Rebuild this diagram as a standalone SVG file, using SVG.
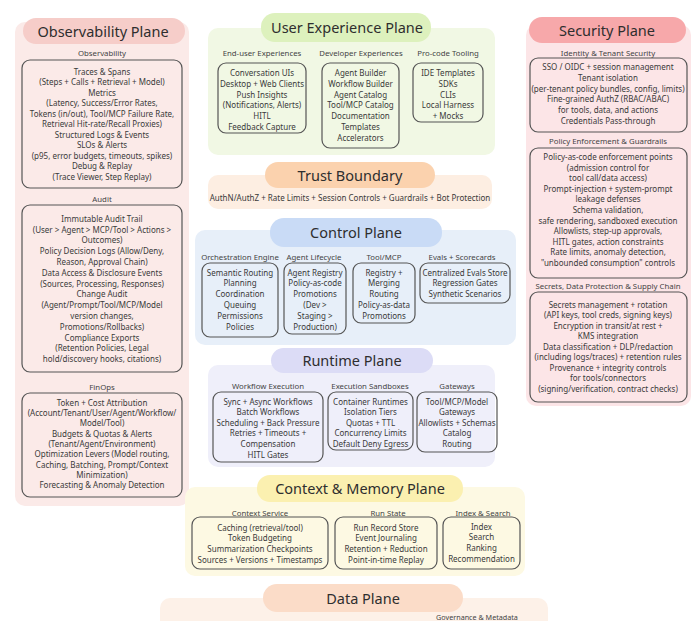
<svg xmlns="http://www.w3.org/2000/svg" width="700" height="621" viewBox="0 0 700 621">
<style>
.t{font-family:"Noto Sans","Open Sans","DejaVu Sans",sans-serif;font-size:8px;fill:#3a3a3a;text-anchor:middle}
.lbl{font-family:"Noto Sans","Open Sans","DejaVu Sans",sans-serif;font-size:7.8px;fill:#444;text-anchor:middle}
.ttl{font-family:"Noto Sans","Open Sans","DejaVu Sans",sans-serif;font-size:14.5px;fill:#2e2e2e;text-anchor:middle}
.box{fill:none;stroke:#555;stroke-width:1.2}
</style>
<rect width="700" height="621" fill="#ffffff"/>

<g id="observability">
<rect x="15" y="22" width="174" height="484" rx="10" fill="#fbeae8"/>
<rect x="23" y="18" width="162" height="26" rx="13" fill="#f6cdc9"/>
<text class="ttl" x="103" y="36.5">Observability Plane</text>
<text class="lbl" x="102" y="55.5">Observability</text>
<rect class="box" x="22" y="60" width="160" height="128" rx="8"/>
<text class="t" x="102" y="74.8">Traces &amp; Spans</text>
<text class="t" x="102" y="85.3">(Steps + Calls + Retrieval + Model)</text>
<text class="t" x="102" y="95.8">Metrics</text>
<text class="t" x="102" y="106.3">(Latency, Success/Error Rates,</text>
<text class="t" x="102" y="116.8">Tokens (in/out), Tool/MCP Failure Rate,</text>
<text class="t" x="102" y="127.3">Retrieval Hit-rate/Recall Proxies)</text>
<text class="t" x="102" y="137.8">Structured Logs &amp; Events</text>
<text class="t" x="102" y="148.3">SLOs &amp; Alerts</text>
<text class="t" x="102" y="158.8">(p95, error budgets, timeouts, spikes)</text>
<text class="t" x="102" y="169.3">Debug &amp; Replay</text>
<text class="t" x="102" y="179.8">(Trace Viewer, Step Replay)</text>
<text class="lbl" x="102" y="201.5">Audit</text>
<rect class="box" x="22" y="205" width="160" height="167" rx="8"/>
<text class="t" x="102" y="221.8">Immutable Audit Trail</text>
<text class="t" x="102" y="232.6">(User &gt; Agent &gt; MCP/Tool &gt; Actions &gt;</text>
<text class="t" x="102" y="243.4">Outcomes)</text>
<text class="t" x="102" y="254.2">Policy Decision Logs (Allow/Deny,</text>
<text class="t" x="102" y="265">Reason, Approval Chain)</text>
<text class="t" x="102" y="275.8">Data Access &amp; Disclosure Events</text>
<text class="t" x="102" y="286.6">(Sources, Processing, Responses)</text>
<text class="t" x="102" y="297.4">Change Audit</text>
<text class="t" x="102" y="308.2">(Agent/Prompt/Tool/MCP/Model</text>
<text class="t" x="102" y="319">version changes,</text>
<text class="t" x="102" y="329.8">Promotions/Rollbacks)</text>
<text class="t" x="102" y="340.6">Compliance Exports</text>
<text class="t" x="102" y="351.4">(Retention Policies, Legal</text>
<text class="t" x="102" y="362.2">hold/discovery hooks, citations)</text>
<text class="lbl" x="102" y="389.5">FinOps</text>
<rect class="box" x="22" y="393" width="160" height="104" rx="8"/>
<text class="t" x="102" y="405.8">Token + Cost Attribution</text>
<text class="t" x="102" y="416.1">(Account/Tenant/User/Agent/Workflow/</text>
<text class="t" x="102" y="426.4">Model/Tool)</text>
<text class="t" x="102" y="436.7">Budgets &amp; Quotas &amp; Alerts</text>
<text class="t" x="102" y="447">(Tenant/Agent/Environment)</text>
<text class="t" x="102" y="457.3">Optimization Levers (Model routing,</text>
<text class="t" x="102" y="467.6">Caching, Batching, Prompt/Context</text>
<text class="t" x="102" y="477.9">Minimization)</text>
<text class="t" x="102" y="488.2">Forecasting &amp; Anomaly Detection</text>
</g>

<g id="ux-plane">
<rect x="208" y="28" width="287" height="127" rx="10" fill="#f1f8e4"/>
<rect x="261" y="13" width="170" height="29" rx="14" fill="#ddf1bd"/>
<text class="ttl" x="347" y="32.5">User Experience Plane</text>
<text class="lbl" x="262" y="55.5">End-user Experiences</text>
<text class="lbl" x="361" y="55.5">Developer Experiences</text>
<text class="lbl" x="448" y="55.5">Pro-code Tooling</text>
<rect class="box" x="218" y="63" width="88" height="70" rx="8"/>
<text class="t" x="262" y="76">Conversation UIs</text>
<text class="t" x="262" y="86.8">Desktop + Web Clients</text>
<text class="t" x="262" y="97.6">Push Insights</text>
<text class="t" x="262" y="108.4">(Notifications, Alerts)</text>
<text class="t" x="262" y="119.2">HITL</text>
<text class="t" x="262" y="130">Feedback Capture</text>
<rect class="box" x="322" y="63" width="77" height="85" rx="8"/>
<text class="t" x="360.5" y="76">Agent Builder</text>
<text class="t" x="360.5" y="86.8">Workflow Builder</text>
<text class="t" x="360.5" y="97.6">Agent Catalog</text>
<text class="t" x="360.5" y="108.4">Tool/MCP Catalog</text>
<text class="t" x="360.5" y="119.2">Documentation</text>
<text class="t" x="360.5" y="130">Templates</text>
<text class="t" x="360.5" y="140.8">Accelerators</text>
<rect class="box" x="413" y="63" width="70" height="59" rx="8"/>
<text class="t" x="448" y="76">IDE Templates</text>
<text class="t" x="448" y="86.8">SDKs</text>
<text class="t" x="448" y="97.6">CLIs</text>
<text class="t" x="448" y="108.4">Local Harness</text>
<text class="t" x="448" y="119.2">+ Mocks</text>
</g>

<g id="trust-boundary">
<rect x="208" y="175" width="284" height="34" rx="10" fill="#fdeee2"/>
<rect x="265" y="162" width="170" height="26" rx="13" fill="#fbd2ae"/>
<text class="ttl" x="350" y="181">Trust Boundary</text>
<text class="t" x="350" y="200.5">AuthN/AuthZ + Rate Limits + Session Controls + Guardrails + Bot Protection</text>
</g>

<g id="control-plane">
<rect x="195" y="230" width="321" height="115" rx="10" fill="#e7eff9"/>
<rect x="270" y="218" width="172" height="29" rx="14" fill="#c9dbf6"/>
<text class="ttl" x="356" y="237.5">Control Plane</text>
<text class="lbl" x="240" y="260">Orchestration Engine</text>
<text class="lbl" x="314" y="260">Agent Lifecycle</text>
<text class="lbl" x="384" y="260">Tool/MCP</text>
<text class="lbl" x="462" y="260">Evals + Scorecards</text>
<rect class="box" x="202" y="263" width="76" height="74" rx="8"/>
<text class="t" x="240" y="275.5">Semantic Routing</text>
<text class="t" x="240" y="286.3">Planning</text>
<text class="t" x="240" y="297.1">Coordination</text>
<text class="t" x="240" y="307.9">Queuing</text>
<text class="t" x="240" y="318.7">Permissions</text>
<text class="t" x="240" y="329.5">Policies</text>
<rect class="box" x="284" y="263" width="62" height="71" rx="8"/>
<text class="t" x="315" y="275.5">Agent Registry</text>
<text class="t" x="315" y="286.3">Policy-as-code</text>
<text class="t" x="315" y="297.1">Promotions</text>
<text class="t" x="315" y="307.9">(Dev &gt;</text>
<text class="t" x="315" y="318.7">Staging &gt;</text>
<text class="t" x="315" y="329.5">Production)</text>
<rect class="box" x="353" y="263" width="62" height="60" rx="8"/>
<text class="t" x="384" y="275.5">Registry +</text>
<text class="t" x="384" y="286.3">Merging</text>
<text class="t" x="384" y="297.1">Routing</text>
<text class="t" x="384" y="307.9">Policy-as-data</text>
<text class="t" x="384" y="318.7">Promotions</text>
<rect class="box" x="420" y="263" width="90" height="40" rx="8"/>
<text class="t" x="465" y="275.5">Centralized Evals Store</text>
<text class="t" x="465" y="286.3">Regression Gates</text>
<text class="t" x="465" y="297.1">Synthetic Scenarios</text>
</g>

<g id="runtime-plane">
<rect x="208" y="365" width="287" height="102" rx="10" fill="#efeffa"/>
<rect x="271" y="348" width="162" height="25" rx="12.5" fill="#dcdcf6"/>
<text class="ttl" x="352" y="365.5">Runtime Plane</text>
<text class="lbl" x="268" y="389">Workflow Execution</text>
<text class="lbl" x="370" y="389">Execution Sandboxes</text>
<text class="lbl" x="457" y="389">Gateways</text>
<rect class="box" x="213" y="392" width="110" height="70" rx="8"/>
<text class="t" x="268" y="404.5">Sync + Async Workflows</text>
<text class="t" x="268" y="415.1">Batch Workflows</text>
<text class="t" x="268" y="425.7">Scheduling + Back Pressure</text>
<text class="t" x="268" y="436.3">Retries + Timeouts +</text>
<text class="t" x="268" y="446.9">Compensation</text>
<text class="t" x="268" y="457.5">HITL Gates</text>
<rect class="box" x="328" y="392" width="85" height="58" rx="8"/>
<text class="t" x="370.5" y="404.5">Container Runtimes</text>
<text class="t" x="370.5" y="415.1">Isolation Tiers</text>
<text class="t" x="370.5" y="425.7">Quotas + TTL</text>
<text class="t" x="370.5" y="436.3">Concurrency Limits</text>
<text class="t" x="370.5" y="446.9">Default Deny Egress</text>
<rect class="box" x="417" y="392" width="80" height="60" rx="8"/>
<text class="t" x="457" y="404.5">Tool/MCP/Model</text>
<text class="t" x="457" y="415.1">Gateways</text>
<text class="t" x="457" y="425.7">Allowlists + Schemas</text>
<text class="t" x="457" y="436.3">Catalog</text>
<text class="t" x="457" y="446.9">Routing</text>
</g>

<g id="context-memory-plane">
<rect x="185" y="487" width="340" height="89" rx="10" fill="#fdf9e3"/>
<rect x="257" y="475" width="206" height="27" rx="13" fill="#fbf0b0"/>
<text class="ttl" x="360" y="493.5">Context &amp; Memory Plane</text>
<text class="lbl" x="260" y="515.5">Context Service</text>
<text class="lbl" x="388" y="515.5">Run State</text>
<text class="lbl" x="483" y="515.5">Index &amp; Search</text>
<rect class="box" x="192" y="517" width="136" height="52" rx="8"/>
<text class="t" x="260" y="530.8">Caching (retrieval/tool)</text>
<text class="t" x="260" y="541.4">Token Budgeting</text>
<text class="t" x="260" y="552">Summarization Checkpoints</text>
<text class="t" x="260" y="562.6">Sources + Versions + Timestamps</text>
<rect class="box" x="335" y="517" width="102" height="52" rx="8"/>
<text class="t" x="386" y="530.8">Run Record Store</text>
<text class="t" x="386" y="541.4">Event Journaling</text>
<text class="t" x="386" y="552">Retention + Reduction</text>
<text class="t" x="386" y="562.6">Point-in-time Replay</text>
<rect class="box" x="443" y="517" width="77" height="52" rx="8"/>
<text class="t" x="481.5" y="529.8">Index</text>
<text class="t" x="481.5" y="540.4">Search</text>
<text class="t" x="481.5" y="551">Ranking</text>
<text class="t" x="481.5" y="561.6">Recommendation</text>
</g>

<g id="data-plane">
<rect x="160" y="598" width="388" height="40" rx="10" fill="#fdf1e8"/>
<rect x="263" y="584" width="200" height="28" rx="14" fill="#fbdcc8"/>
<text class="ttl" x="363" y="603.5">Data Plane</text>
<text class="lbl" x="477" y="619.5" style="font-size:7.2px">Governance &amp; Metadata</text>
</g>

<g id="security-plane">
<rect x="526" y="25" width="165" height="381" rx="10" fill="#fce5e7"/>
<rect x="529" y="17" width="157" height="26" rx="13" fill="#f7a8aa"/>
<text class="ttl" x="607" y="35.5">Security Plane</text>
<text class="lbl" x="608" y="55.5">Identity &amp; Tenant Security</text>
<rect class="box" x="530" y="58" width="157" height="74" rx="8"/>
<text class="t" x="608" y="70">SSO / OIDC + session management</text>
<text class="t" x="608" y="80.8">Tenant isolation</text>
<text class="t" x="608" y="91.6">(per-tenant policy bundles, config, limits)</text>
<text class="t" x="608" y="102.4">Fine-grained AuthZ (RBAC/ABAC)</text>
<text class="t" x="608" y="113.2">for tools, data, and actions</text>
<text class="t" x="608" y="124">Credentials Pass-through</text>
<text class="lbl" x="608" y="143.5">Policy Enforcement &amp; Guardrails</text>
<rect class="box" x="530" y="148" width="157" height="130" rx="8"/>
<text class="t" x="608" y="160">Policy-as-code enforcement points</text>
<text class="t" x="608" y="170.6">(admission control for</text>
<text class="t" x="608" y="181.2">tool call/data access)</text>
<text class="t" x="608" y="191.8">Prompt-injection + system-prompt</text>
<text class="t" x="608" y="202.4">leakage defenses</text>
<text class="t" x="608" y="213">Schema validation,</text>
<text class="t" x="608" y="223.6">safe rendering, sandboxed execution</text>
<text class="t" x="608" y="234.2">Allowlists, step-up approvals,</text>
<text class="t" x="608" y="244.8">HITL gates, action constraints</text>
<text class="t" x="608" y="255.4">Rate limits, anomaly detection,</text>
<text class="t" x="608" y="266">"unbounded consumption" controls</text>
<text class="lbl" x="608" y="288.5">Secrets, Data Protection &amp; Supply Chain</text>
<rect class="box" x="530" y="292" width="157" height="110" rx="8"/>
<text class="t" x="608" y="307.8">Secrets management + rotation</text>
<text class="t" x="608" y="318.3">(API keys, tool creds, signing keys)</text>
<text class="t" x="608" y="328.8">Encryption in transit/at rest +</text>
<text class="t" x="608" y="339.3">KMS integration</text>
<text class="t" x="608" y="349.8">Data classification + DLP/redaction</text>
<text class="t" x="608" y="360.3">(including logs/traces) + retention rules</text>
<text class="t" x="608" y="370.8">Provenance + integrity controls</text>
<text class="t" x="608" y="381.3">for tools/connectors</text>
<text class="t" x="608" y="391.8">(signing/verification, contract checks)</text>
</g>

<g id="connectors"></g>
</svg>
